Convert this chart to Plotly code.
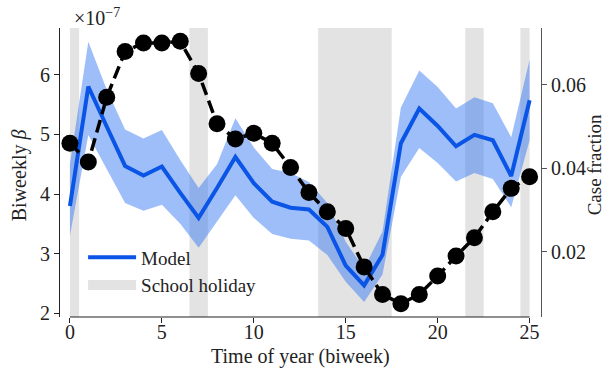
import plotly.graph_objects as go

# ---- data ----
biweek = list(range(26))
# model beta, units of 1e-7
model_mean = [3.80, 5.80, 5.13, 4.47, 4.31, 4.46, 4.02, 3.60, 4.10, 4.62, 4.18, 3.87, 3.77,
              3.74, 3.45, 2.80, 2.47, 2.98, 4.85, 5.43, 5.14, 4.80, 4.99, 4.90, 4.30, 5.57]
model_low = [3.30, 4.99, 4.42, 3.85, 3.72, 3.82, 3.50, 3.10, 3.54, 3.98, 3.60, 3.33, 3.25,
             3.22, 2.98, 2.53, 2.19, 2.65, 4.29, 4.77, 4.52, 4.21, 4.35, 4.25, 3.78, 4.90]
model_high = [4.50, 6.55, 5.75, 5.08, 4.93, 5.07, 4.57, 4.10, 4.50, 5.27, 4.78, 4.42, 4.35,
              4.20, 3.85, 3.20, 2.75, 3.37, 5.45, 6.07, 5.79, 5.43, 5.62, 5.52, 4.95, 6.25]
case_fraction = [0.0460, 0.0415, 0.0570, 0.0680, 0.0700, 0.0700, 0.0704, 0.0627, 0.0507,
                 0.0470, 0.0484, 0.0460, 0.0402, 0.0342, 0.0296, 0.0256, 0.0164, 0.0098,
                 0.0076, 0.0098, 0.0142, 0.0190, 0.0234, 0.0296, 0.0352, 0.0380]
holiday_start = [0.0, 6.5, 13.5, 21.5, 24.5]
holiday_end = [0.5, 7.5, 17.5, 22.5, 25.0]
x_ticks = [0, 5, 10, 15, 20, 25]
y_ticks = [2, 3, 4, 5, 6]
y2_ticks = [0.02, 0.04, 0.06]

FONT = "Liberation Serif"
TXT = "#222"
BLUE = "#0a55e6"
GREY = "#e3e3e3"
tf = dict(family=FONT, size=20, color=TXT)

fig = go.Figure()

# holiday shading
for s, e in zip(holiday_start, holiday_end):
    fig.add_shape(type="rect", xref="x", yref="paper", x0=s, x1=e, y0=0, y1=1,
                  fillcolor=GREY, line_width=0, layer="below")

# model band
fig.add_trace(go.Scatter(x=biweek, y=model_high, mode="lines", line=dict(width=0),
                         showlegend=False, hoverinfo="skip"))
fig.add_trace(go.Scatter(x=biweek, y=model_low, mode="lines", line=dict(width=0),
                         fill="tonexty", fillcolor="rgba(40,110,245,0.45)",
                         showlegend=False, hoverinfo="skip"))
fig.add_trace(go.Scatter(x=biweek, y=model_mean, mode="lines", name="Model",
                         line=dict(color=BLUE, width=4)))
# legend entry for the holiday shading
fig.add_trace(go.Scatter(x=[None], y=[None], mode="lines", name="School holiday",
                         line=dict(color=GREY, width=13)))

# case fraction data
fig.add_trace(go.Scatter(x=biweek, y=case_fraction, yaxis="y2", mode="lines+markers",
                         line=dict(color="black", width=3.5, dash="13px,6px"),
                         marker=dict(color="black", size=17),
                         showlegend=False))

# trimmed bottom spine
fig.add_shape(type="line", xref="x", yref="paper", x0=x_ticks[0], x1=x_ticks[-1],
              y0=0, y1=0, line=dict(color=TXT, width=1.2))

# exponent and axis titles
fig.add_annotation(text="×10<sup>−7</sup>", xref="paper", yref="paper",
                   x=0.025, y=1.038, xanchor="left", yanchor="middle",
                   showarrow=False, font=tf)
fig.add_annotation(text="Time of year (biweek)", xref="paper", yref="paper",
                   x=0.5, y=-0.138, xanchor="center", yanchor="middle",
                   showarrow=False, font=tf)
fig.add_annotation(text="Biweekly <i>β</i>", xref="paper", yref="paper",
                   x=-0.085, y=0.491, xanchor="center", yanchor="middle",
                   textangle=-90, showarrow=False, font=tf)
fig.add_annotation(text="Case fraction", xref="paper", yref="paper",
                   x=1.113, y=0.526, xanchor="center", yanchor="middle",
                   textangle=-90, showarrow=False,
                   font=dict(family=FONT, size=19, color=TXT))

fig.update_layout(
    width=608, height=370,
    margin=dict(l=60, r=67, t=28, b=53),
    plot_bgcolor="white", paper_bgcolor="white",
    font=tf,
    xaxis=dict(range=[-0.54, 25.62], tickvals=x_ticks, showline=False, showgrid=False,
               zeroline=False, ticks="outside", ticklen=5, tickcolor=TXT,
               tickfont=tf, automargin=False, ticklabelstandoff=-8),
    yaxis=dict(range=[1.94, 6.78], tickvals=y_ticks, showline=True, linecolor=TXT,
               linewidth=1.2, showgrid=False, zeroline=False, ticks="outside",
               ticklen=5, tickcolor=TXT, tickfont=tf, automargin=False),
    yaxis2=dict(range=[0.0044, 0.0736], tickvals=y2_ticks, overlaying="y", side="right",
                showline=True, linecolor="#555", linewidth=1.2, showgrid=False,
                zeroline=False, ticks="outside", ticklen=5, tickcolor="#555",
                tickfont=tf, automargin=False),
    legend=dict(x=0.048, y=0.272, xanchor="left", yanchor="top", traceorder="normal",
                bgcolor="rgba(0,0,0,0)", font=dict(family=FONT, size=19, color=TXT),
                itemwidth=48, tracegroupgap=0),
)

fig.write_html("out.html")
